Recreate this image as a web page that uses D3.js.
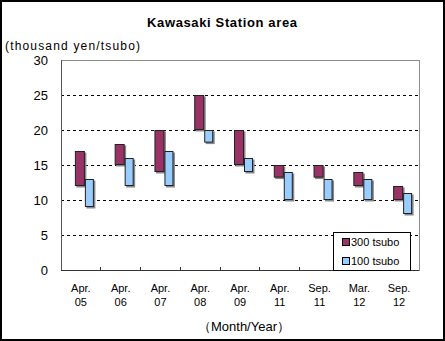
<!DOCTYPE html>
<html><head><meta charset="utf-8">
<script src="https://cdn.jsdelivr.net/npm/d3@7"></script>
<style>body{margin:0;background:#fff}svg{display:block}</style>
</head><body><div id="chart"></div>
<script>
const months = ["Apr.","Apr.","Apr.","Apr.","Apr.","Apr.","Sep.","Mar.","Sep."];
const years = ["05","06","07","08","09","11","11","12","12"];
const low300 = [12,15,14,20,15,13.2,13.2,12,10];
const high300 = [17,18,20,25,20,15,15,14,12];
const low100 = [9,12,12,18.2,14,10,10,10,8];
const high100 = [13,16,17,20,16,14,13,13,11];
const yTicks = [0,5,10,15,20,25,30];
const seriesNames = ["300 tsubo","100 tsubo"];
const colors = ["#993366","#99CCFF"];

const W=445,H=341;
const svg=d3.select("#chart").append("svg").attr("width",W).attr("height",H);
const font="'Liberation Sans', Arial, sans-serif";
svg.append("rect").attr("x",1).attr("y",1).attr("width",W-2).attr("height",H-2).attr("fill","#fff").attr("stroke","#000").attr("stroke-width",2);

const L=61,R=419,T=60,B=270;
const x=d3.scaleBand().domain(d3.range(months.length)).range([L,R]);
const y=d3.scaleLinear().domain([0,30]).range([B,T]);

// frame
svg.append("rect").attr("x",L).attr("y",T).attr("width",R-L).attr("height",B-T).attr("fill","none").attr("stroke","#8c8c8c").attr("stroke-width",1).attr("shape-rendering","crispEdges");
// gridlines
svg.selectAll(".grid").data(yTicks.filter(d=>d>0&&d<30)).enter().append("line")
 .attr("x1",L).attr("x2",R).attr("y1",d=>y(d)).attr("y2",d=>y(d))
 .attr("stroke","#000").attr("stroke-dasharray","3,3").attr("shape-rendering","crispEdges");
// axes lines
svg.append("line").attr("x1",L).attr("x2",L).attr("y1",T).attr("y2",B).attr("stroke","#555").attr("shape-rendering","crispEdges");
svg.append("line").attr("x1",L).attr("x2",R).attr("y1",B).attr("y2",B).attr("stroke","#333").attr("shape-rendering","crispEdges");
// x ticks (inside)
svg.selectAll(".xt").data(d3.range(1,months.length)).enter().append("line")
 .attr("x1",d=>x(d)).attr("x2",d=>x(d)).attr("y1",B).attr("y2",B-3)
 .attr("stroke","#333").attr("shape-rendering","crispEdges");

// y labels
svg.selectAll(".yl").data(yTicks).enter().append("text")
 .attr("x",48).attr("y",d=>y(d)+5).attr("text-anchor","end")
 .attr("font-family",font).attr("font-size",13).attr("fill","#000").text(d=>d);

// bars
function drawBars(lows,highs,idx){
  const g=svg.append("g");
  const x0 = idx===0 ? -6 : 4, w = idx===0 ? 10 : 9;
  g.selectAll(".s").data(d3.range(lows.length)).enter().append("rect")
   .attr("x",i=>x(i)+x.bandwidth()/2+x0+1.5).attr("y",i=>y(highs[i])+1.5)
   .attr("width",w).attr("height",i=>y(lows[i])-y(highs[i]))
   .attr("fill","#888");
  g.selectAll(".b").data(d3.range(lows.length)).enter().append("rect")
   .attr("x",i=>x(i)+x.bandwidth()/2+x0+0.5).attr("y",i=>y(highs[i])+0.5)
   .attr("width",w-1).attr("height",i=>y(lows[i])-y(highs[i])-1)
   .attr("fill",colors[idx]).attr("stroke","#222").attr("stroke-width",1);
}
drawBars(low300,high300,0);
drawBars(low100,high100,1);

// x labels
const xl=svg.selectAll(".xl").data(d3.range(months.length)).enter().append("text")
 .attr("font-family",font).attr("font-size",11).attr("text-anchor","middle").attr("fill","#000");
xl.append("tspan").attr("x",i=>x(i)+x.bandwidth()/2).attr("y",292).text(i=>months[i]);
xl.append("tspan").attr("x",i=>x(i)+x.bandwidth()/2).attr("y",306).text(i=>years[i]);

// titles
svg.append("text").attr("x",222).attr("y",27).attr("text-anchor","middle").attr("font-family",font)
 .attr("font-weight","bold").attr("font-size",13).attr("textLength",150).text("Kawasaki Station area");
svg.append("text").attr("x",5).attr("y",50).attr("font-family",font).attr("font-size",12)
 .attr("textLength",135).text("(thousand yen/tsubo)");
svg.append("text").attr("x",244).attr("y",331).attr("text-anchor","middle").attr("font-family",font)
 .attr("font-size",13).text("（Month/Year）");

// legend
const lg=svg.append("g");
lg.append("rect").attr("x",333.5).attr("y",232.5).attr("width",77).attr("height",38).attr("fill","#fff").attr("stroke","#000");
seriesNames.forEach((n,i)=>{
  lg.append("rect").attr("x",342.5).attr("y",238.5+i*19).attr("width",7).attr("height",7).attr("fill",colors[i]).attr("stroke","#000");
  lg.append("text").attr("x",351).attr("y",246+i*19).attr("font-family",font).attr("font-size",11).text(n);
});
</script></body></html>
